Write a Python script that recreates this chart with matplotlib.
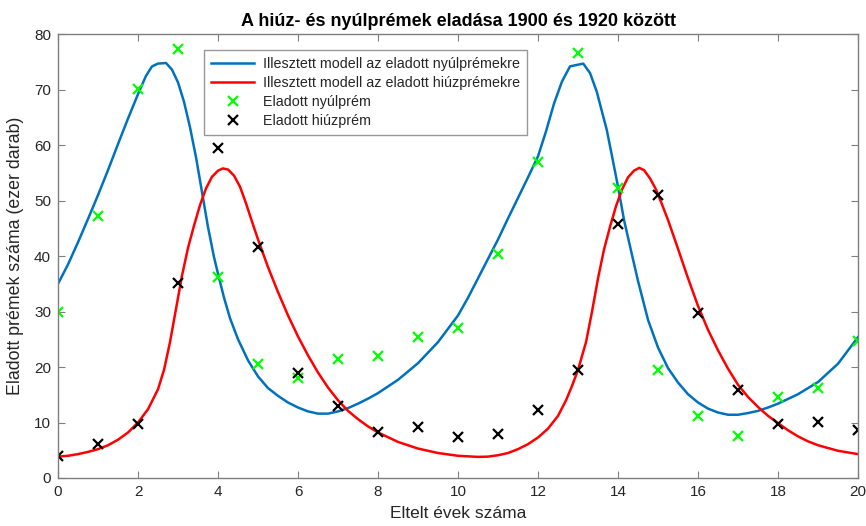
import matplotlib
matplotlib.use("Agg")
import matplotlib.pyplot as plt

plt.rcParams['font.family'] = ['Liberation Sans', 'DejaVu Sans']

years = list(range(0, 21))
hare = [30, 47.2, 70.2, 77.4, 36.3, 20.6, 18.1, 21.4, 22, 25.4, 27.1,
        40.3, 57, 76.6, 52.3, 19.5, 11.2, 7.6, 14.6, 16.2, 24.7]
lynx = [4, 6.1, 9.8, 35.2, 59.4, 41.7, 19, 13, 8.3, 9.1, 7.4,
        8, 12.3, 19.5, 45.7, 51.1, 29.7, 15.8, 9.7, 10.1, 8.6]

# fitted model curves
t_hare = [0, 0.25, 0.5, 0.75, 1, 1.25, 1.5, 1.75, 2, 2.2, 2.35, 2.5, 2.7, 2.85, 3.0,
          3.15, 3.3, 3.45, 3.6, 3.75, 3.9, 4.0, 4.15, 4.3, 4.5, 4.75, 5.0, 5.25, 5.5,
          5.75, 6.0, 6.25, 6.5, 6.75, 7.0, 7.25, 7.5, 7.75, 8.0, 8.5, 9.0, 9.5, 10.0,
          10.25, 10.5, 10.75, 11.0, 11.25, 11.5, 11.75, 12.0, 12.2, 12.4, 12.6, 12.8,
          13.13, 13.3, 13.47, 13.6, 13.72, 13.85, 14.0, 14.15, 14.34, 14.5, 14.75,
          15.0, 15.25, 15.5, 15.75, 16.0, 16.25, 16.5, 16.75, 17.0, 17.25, 17.5,
          17.75, 18.0, 18.5, 19.0, 19.5, 20.0]
v_hare = [35, 38.5, 42.5, 46.7, 51, 55.5, 60.2, 64.8, 69.2, 72.5, 74.2, 74.7, 74.8, 73.6, 71.3,
          67.8, 63.2, 57.8, 51.5, 45.2, 39.8, 36.8, 32.5, 28.8, 25, 21.2, 18.3, 16.2, 14.8,
          13.6, 12.7, 12.0, 11.6, 11.6, 12.0, 12.6, 13.4, 14.3, 15.3, 17.7, 20.7, 24.5, 29.3,
          32.5, 36, 39.5, 43, 46.8, 50.5, 54.2, 58, 62.5, 67.5, 71.5, 74.2,
          74.7, 73, 69.6, 66, 62.7, 58, 52.5, 46.5, 40.5, 35.5, 28.5,
          23.5, 19.8, 17.2, 15.1, 13.6, 12.5, 11.8, 11.4, 11.4, 11.7, 12.1,
          12.7, 13.4, 15.1, 17.3, 20.6, 25.4]

t_lynx = [0, 0.25, 0.5, 0.75, 1, 1.25, 1.5, 1.75, 2, 2.25, 2.5, 2.65, 2.8, 2.95, 3.1, 3.25,
          3.4, 3.55, 3.7, 3.85, 4.0, 4.12, 4.25, 4.4, 4.55, 4.7, 4.85, 5.0, 5.25, 5.5,
          5.75, 6.0, 6.25, 6.5, 6.75, 7.0, 7.25, 7.5, 7.75, 8.0, 8.5, 9.0, 9.5, 10.0,
          10.5, 10.75, 11.0, 11.25, 11.5, 11.75, 12.0, 12.25, 12.5, 12.7, 12.85, 13.0,
          13.2, 13.35, 13.5, 13.65, 13.8, 13.95, 14.1, 14.25, 14.4, 14.53, 14.65, 14.8,
          14.95, 15.1, 15.25, 15.5, 15.75, 16.0, 16.25, 16.5, 16.75, 17.0, 17.25, 17.5,
          17.75, 18.0, 18.25, 18.5, 18.75, 19.0, 19.5, 20.0]
v_lynx = [3.85, 4.0, 4.3, 4.7, 5.2, 5.9, 6.9, 8.2, 10, 12.4, 16, 19.5, 24.5, 30.5, 36.5, 41.5,
          45.5, 49.2, 52.2, 54.3, 55.4, 55.8, 55.6, 54.5, 52.5, 49.5, 46.2, 43, 38, 33.5,
          29.3, 25.5, 22.1, 19, 16.3, 14, 12.1, 10.6, 9.3, 8.2, 6.5, 5.3, 4.5, 4.0,
          3.8, 3.85, 4.1, 4.5, 5.2, 6.1, 7.3, 8.9, 11.2, 14, 16.6, 19.5,
          24.5, 30, 36, 41.2, 45.3, 49, 52, 54.2, 55.4, 55.9, 55.5, 54,
          52, 49.3, 46.5, 41.3, 36, 31, 26.7, 23, 19.7, 16.8, 14.6, 12.8,
          11.2, 9.9, 8.6, 7.5, 6.6, 5.9, 4.9, 4.3]

fig = plt.figure(figsize=(8.66, 5.26), dpi=100)
ax = fig.add_axes([0.067, 0.0913, 0.9238, 0.8437])

blue = '#0072BD'
ax.plot(t_hare, v_hare, color=blue, lw=1.8,
        label='Illesztett modell az eladott nyúlprémekre')
ax.plot(t_lynx, v_lynx, color='#FF0000', lw=1.8,
        label='Illesztett modell az eladott hiúzprémekre')
ax.plot(years, hare, 'x', color='#00FF00', ms=7, mew=1.6, label='Eladott nyúlprém')
ax.plot(years, lynx, 'x', color='black', ms=7, mew=1.6, label='Eladott hiúzprém')

ax.set_xlim(0, 20)
ax.set_ylim(0, 80)
ax.set_xticks(range(0, 21, 2))
ax.set_yticks(range(0, 81, 10))
axcol = '#262626'
for s in ax.spines.values():
    s.set_color('#7f7f7f')
    s.set_linewidth(1.0)
ax.tick_params(direction='in', top=True, right=True, length=5, width=0.8,
               color='#7f7f7f', labelsize=11, labelcolor=axcol, pad=5)

ax.set_title('A hiúz- és nyúlprémek eladása 1900 és 1920 között',
             fontsize=13, fontweight='bold', color='black', pad=6)
ax.set_xlabel('Eltelt évek száma', fontsize=12.5, color=axcol, labelpad=5)
ax.set_ylabel('Eladott prémek száma (ezer darab)', fontsize=12.8, color=axcol, labelpad=7)

leg = ax.legend(loc='upper left', bbox_to_anchor=(0.2356, 0.905),
                bbox_transform=fig.transFigure, borderaxespad=0,
                fontsize=10.3, frameon=True, fancybox=False, edgecolor='#7f7f7f',
                handlelength=3.0, labelspacing=0.35, handletextpad=0.6,
                borderpad=0.5)
leg.get_frame().set_linewidth(1.0)
for t in leg.get_texts():
    t.set_color(axcol)

fig.savefig('out.png', dpi=100)
